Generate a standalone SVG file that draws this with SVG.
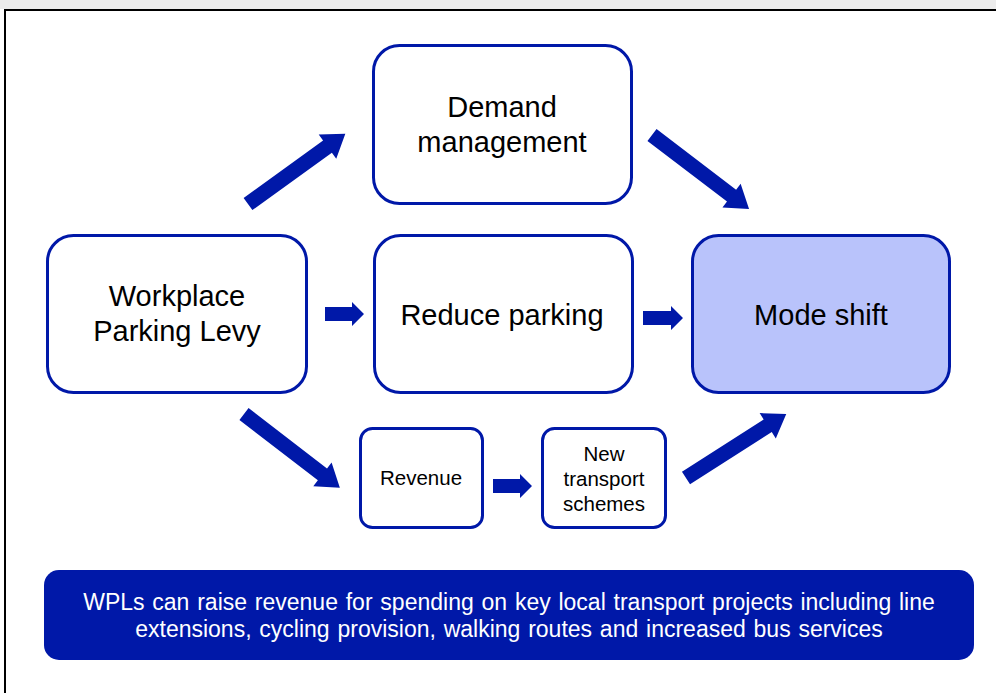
<svg xmlns="http://www.w3.org/2000/svg" width="996" height="693" viewBox="0 0 996 693">
<style>
.box{fill:#fff;stroke:#0018A8;stroke-width:3}
.hl{fill:#B9C3FB}
.t{font-family:"Liberation Sans",Arial,sans-serif;fill:#000;text-anchor:middle}
.big{font-size:29px}
.sm{font-size:20.5px}
.ban{font-family:"Liberation Sans",Arial,sans-serif;fill:#fff;font-size:23px;text-anchor:middle;word-spacing:1.4px}
.arr{fill:#0018A8}
</style>
<rect x="0" y="0" width="996" height="693" fill="#fff"/>
<rect x="0" y="0" width="996" height="9" fill="#ececec"/>
<path d="M5,693 V10 H996" fill="none" stroke="#000" stroke-width="2"/>
<g id="demand"><rect class="box" x="373.5" y="45.5" width="258" height="158" rx="26"/>
<text class="t big" x="502" y="117">Demand</text><text class="t big" x="502" y="152">management</text></g>
<g id="wpl"><rect class="box" x="47.5" y="235.5" width="259" height="157" rx="26"/>
<text class="t big" x="177" y="306">Workplace</text><text class="t big" x="177" y="341">Parking Levy</text></g>
<g id="reduce"><rect class="box" x="374.5" y="235.5" width="258" height="157" rx="26"/>
<text class="t big" x="502" y="325">Reduce parking</text></g>
<g id="mode"><rect class="box hl" x="692.5" y="235.5" width="257" height="157" rx="26"/>
<text class="t big" x="821" y="325">Mode shift</text></g>
<g id="revenue"><rect class="box" x="360.5" y="428.5" width="122" height="99" rx="12"/>
<text class="t sm" x="421" y="485">Revenue</text></g>
<g id="schemes"><rect class="box" x="542.5" y="428.5" width="123" height="99" rx="12"/>
<text class="t sm" x="604" y="461">New</text><text class="t sm" x="604" y="486">transport</text><text class="t sm" x="604" y="511">schemes</text></g>
<g id="banner"><rect x="44" y="570" width="930" height="90" rx="15" fill="#0018A8"/>
<text class="ban" x="509" y="610">WPLs can raise revenue for spending on key local transport projects including line</text>
<text class="ban" x="509" y="637">extensions, cycling provision, walking routes and increased bus services</text></g>
<g id="connectors">
<polygon class="arr" transform="translate(248,204) rotate(-35.8)" points="0,-7.5 98,-7.5 98,-15 120,0 98,15 98,7.5 0,7.5"/>
<polygon class="arr" transform="translate(652,135) rotate(37.3)" points="0,-7.5 100,-7.5 100,-15 122,0 100,15 100,7.5 0,7.5"/>
<polygon class="arr" transform="translate(244,414) rotate(37.6)" points="0,-7.5 99,-7.5 99,-15 121,0 99,15 99,7.5 0,7.5"/>
<polygon class="arr" transform="translate(686,478) rotate(-32.6)" points="0,-7.5 97,-7.5 97,-15 119,0 97,15 97,7.5 0,7.5"/>
<polygon class="arr" points="325,307 352,307 352,302 364,314 352,326 352,321 325,321"/>
<polygon class="arr" points="643,311 671,311 671,306 683,318 671,330 671,325 643,325"/>
<polygon class="arr" points="493,479 520,479 520,474 532,486 520,498 520,493 493,493"/>
</g>
</svg>
